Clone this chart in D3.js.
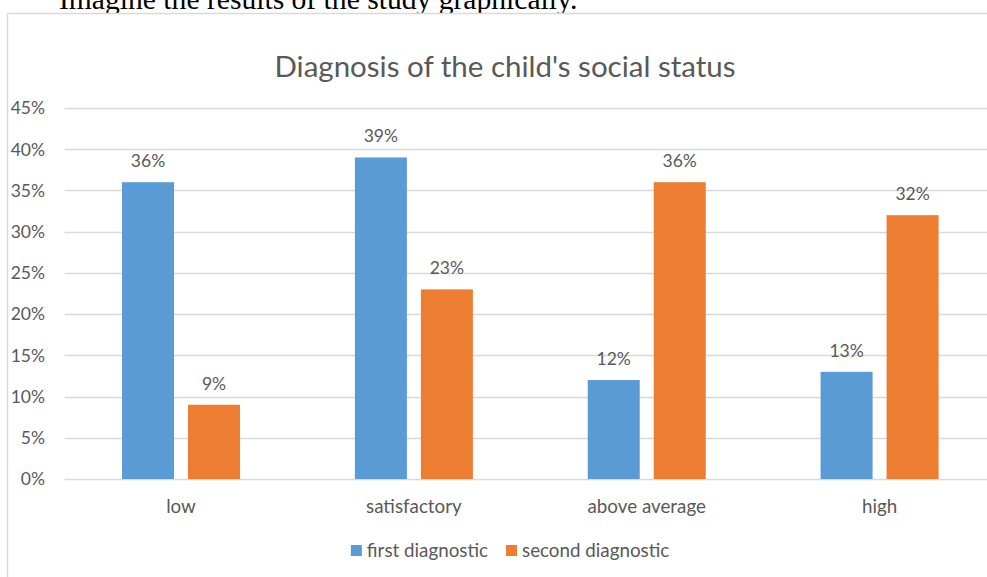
<!DOCTYPE html>
<html>
<head>
<meta charset="utf-8">
<script src="https://cdn.jsdelivr.net/npm/d3@7"></script>
<style>
  body { margin: 0; background: #fff; }
  svg { display: block; }
</style>
</head>
<body>
<svg width="987" height="577"></svg>
<script>
var categories = ["low", "satisfactory", "above average", "high"];
var seriesNames = ["first diagnostic", "second diagnostic"];
var firstValues = [0.36, 0.39, 0.12, 0.13];
var secondValues = [0.09, 0.23, 0.36, 0.32];
var yTicks = [0, 0.05, 0.10, 0.15, 0.20, 0.25, 0.30, 0.35, 0.40, 0.45];
var colors = ["#5b9bd5", "#ed7d31"];

var svg = d3.select("svg"),
    textColor = "#595959",
    font = "Lato, 'Open Sans', sans-serif";

// caption of the document above the chart (cut off at the top)
svg.append("text")
    .attr("x", 59)
    .attr("y", 9)
    .attr("font-family", "'Liberation Serif', 'Times New Roman', serif")
    .attr("font-size", 29.6)
    .attr("fill", "#000")
    .text("Imagine the results of the study graphically.");

// chart frame
svg.append("rect")
    .attr("x", 7.5)
    .attr("y", 13.5)
    .attr("width", 1000)
    .attr("height", 600)
    .attr("fill", "#fff")
    .attr("stroke", "#d9d9d9")
    .attr("stroke-width", 1.5);

svg.append("text")
    .attr("x", 505)
    .attr("y", 77)
    .attr("text-anchor", "middle")
    .attr("font-family", font)
    .attr("font-size", 29.5)
    .attr("fill", textColor)
    .text("Diagnosis of the child's social status");

var x0 = d3.scaleBand()
    .domain(categories)
    .range([64.6, 996]);

var bw = x0.bandwidth();
var x1 = d3.scaleBand()
    .domain(seriesNames)
    .range([bw / 2 - 59, bw / 2 + 59])
    .paddingInner(0.212);

var y = d3.scaleLinear()
    .domain([0, 0.45])
    .range([479, 108]);

var fmt = d3.format(".0%");

// gridlines
svg.append("g").selectAll("line")
    .data(yTicks)
  .enter().append("line")
    .attr("x1", 64.6)
    .attr("x2", 996)
    .attr("y1", function(d) { return Math.round(y(d)) + 0.5; })
    .attr("y2", function(d) { return Math.round(y(d)) + 0.5; })
    .attr("stroke", "#d9d9d9")
    .attr("stroke-width", 1.5);

svg.append("g").selectAll("text")
    .data(yTicks)
  .enter().append("text")
    .attr("x", 45)
    .attr("y", function(d) { return y(d); })
    .attr("dy", "0.36em")
    .attr("text-anchor", "end")
    .attr("font-family", font)
    .attr("font-size", 17.5)
    .attr("fill", textColor)
    .text(fmt);

var rows = categories.map(function(c, i) {
  return {cat: c, values: [firstValues[i], secondValues[i]]};
});

var group = svg.append("g").selectAll("g")
    .data(rows)
  .enter().append("g")
    .attr("transform", function(d) { return "translate(" + x0(d.cat) + ",0)"; });

var bar = group.selectAll("g")
    .data(function(d) {
      return d.values.map(function(v, j) { return {name: seriesNames[j], value: v, j: j}; });
    })
  .enter().append("g");

bar.append("rect")
    .attr("x", function(d) { return x1(d.name); })
    .attr("width", x1.bandwidth())
    .attr("y", function(d) { return y(d.value); })
    .attr("height", function(d) { return y(0) - y(d.value); })
    .attr("fill", function(d) { return colors[d.j]; });

bar.append("text")
    .attr("x", function(d) { return x1(d.name) + x1.bandwidth() / 2; })
    .attr("y", function(d) { return y(d.value) - 15; })
    .attr("text-anchor", "middle")
    .attr("font-family", font)
    .attr("font-size", 17.5)
    .attr("fill", textColor)
    .text(function(d) { return fmt(d.value); });

// category labels
svg.append("g").selectAll("text")
    .data(categories)
  .enter().append("text")
    .attr("x", function(d) { return x0(d) + bw / 2; })
    .attr("y", 513)
    .attr("text-anchor", "middle")
    .attr("font-family", font)
    .attr("font-size", 18.8)
    .attr("fill", textColor)
    .text(function(d) { return d; });

// legend: second entry is anchored, first one is placed to its left
var legend = svg.append("g").selectAll("g")
    .data(seriesNames)
  .enter().append("g");

legend.append("rect")
    .attr("width", 11)
    .attr("height", 11)
    .attr("fill", function(d, i) { return colors[i]; });

legend.append("text")
    .attr("x", 16)
    .attr("y", 5.5)
    .attr("dy", "0.36em")
    .attr("font-family", font)
    .attr("font-size", 18.8)
    .attr("fill", textColor)
    .text(function(d) { return d; });

var firstW = legend.select("text").node().getComputedTextLength();
var legendX = [506 - 18 - firstW - 16, 506];
legend.attr("transform", function(d, i) { return "translate(" + legendX[i] + ",545)"; });
</script>
</body>
</html>
